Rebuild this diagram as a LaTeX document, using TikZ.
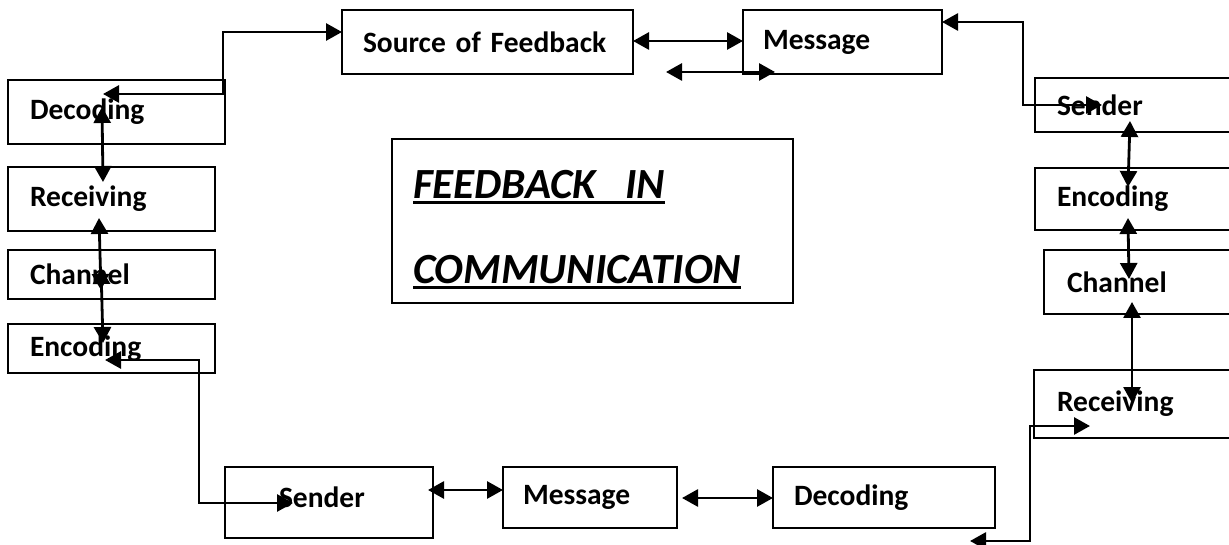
\documentclass[tikz,border=0pt]{standalone}
\usepackage{fontspec}
\setmainfont{Carlito}
\usetikzlibrary{arrows.meta}
\newcommand\titlebar[1]{\leavevmode\setbox0\hbox{#1}\rlap{\rule[-6pt]{\wd0}{3pt}}\box0}
\begin{document}
\begin{tikzpicture}[x=1pt, y=-1pt,
    stage/.style={draw, line width=2.2pt, anchor=north west, outer sep=0pt, inner ysep=0pt,
        align=left, font=\bfseries\fontsize{29.5}{35}\selectfont},
    link/.style={line width=2.8pt, {Triangle[length=16pt,width=17pt]}-{Triangle[length=16pt,width=17pt]}}]
    \useasboundingbox (0, 0) rectangle (1229, 545);
    \node[stage, minimum width=217pt, minimum height=64pt, inner xsep=22pt, text width=173pt] (decL) at (8, 80) {Decoding};
    \node[stage, minimum width=207pt, minimum height=64pt, inner xsep=22pt, text width=163pt] (recL) at (8, 167) {Receiving};
    \node[stage, minimum width=207pt, minimum height=49pt, inner xsep=22pt, text width=163pt] (chaL) at (8, 250) {Channel};
    \node[stage, minimum width=207pt, minimum height=49pt, inner xsep=22pt, text width=163pt] (encL) at (8, 324) {Encoding};
    \node[stage, minimum width=291pt, minimum height=64pt, inner xsep=21pt, text width=249pt] (src) at (342, 10) {Source of Feedback};
    \node[stage, minimum width=199pt, minimum height=64pt, inner xsep=20pt, text width=159pt] (msgT) at (743, 10) {Message};
    \node[stage, minimum width=200pt, minimum height=54pt, inner xsep=22pt, text width=156pt] (sndR) at (1035, 78) {Sender};
    \node[stage, minimum width=200pt, minimum height=62pt, inner xsep=22pt, text width=156pt] (encR) at (1035, 168) {Encoding};
    \node[stage, minimum width=191pt, minimum height=64pt, inner xsep=23pt, text width=145pt] (chaR) at (1044, 250) {Channel};
    \node[stage, minimum width=201pt, minimum height=68pt, inner xsep=23pt, text width=155pt] (recR) at (1034, 370) {Receiving};
    \node[stage, minimum width=208pt, minimum height=71pt, inner xsep=54pt, text width=100pt] (sndB) at (225, 467) {Sender\rule[-10pt]{0pt}{10pt}};
    \node[stage, minimum width=174pt, minimum height=61pt, inner xsep=20pt, text width=134pt] (msgB) at (503, 467) {Message};
    \node[stage, minimum width=222pt, minimum height=61pt, inner xsep=21pt, text width=180pt] (decB) at (773, 467) {Decoding};
    \node[stage, minimum width=401pt, minimum height=164pt, inner xsep=21pt, text width=359pt,
        font=\bfseries\itshape\fontsize{43}{85}\selectfont] (title) at (392, 139)
        {\rule{0pt}{46pt}\titlebar{FEEDBACK\ \ IN}\\\titlebar{COMMUNICATION}};
    % feedback loop
    \draw[link] ([shift={(95,14)}]decL.north west) -| ([shift={(-119,22)}]src.north west) -- ([shift={(0,22)}]src.north west);
    \draw[link] ([shift={(0,31)}]src.north east) -- ([shift={(0,31)}]msgT.north west);
    \draw[link] ([shift={(-77,62)}]msgT.north west) -- ([shift={(32,62)}]msgT.north west);
    \draw[link] ([shift={(0,12)}]msgT.north east) -| ([shift={(-12,27)}]sndR.north west) -- ([shift={(67,27)}]sndR.north west);
    \draw[link] ([shift={(95,43)}]sndR.north west) -- ([shift={(93,19)}]encR.north west);
    \draw[link] ([shift={(93,50)}]encR.north west) -- ([shift={(85,29)}]chaR.north west);
    \draw[link] ([shift={(88,52)}]chaR.north west) -- ([shift={(98,33)}]recR.north west);
    \draw[link] ([shift={(-25,13)}]decB.south east) -| ([shift={(-4,56)}]recR.north west) -- ([shift={(56,56)}]recR.north west);
    \draw[link] ([shift={(5,31)}]msgB.north east) -- ([shift={(0,31)}]decB.north west);
    \draw[link] ([shift={(-5,23)}]sndB.north east) -- ([shift={(0,23)}]msgB.north west);
    \draw[link] ([shift={(97,36)}]encL.north west) -| ([shift={(-26,36)}]sndB.north west) -- ([shift={(68,36)}]sndB.north west);
    \draw[link] ([shift={(93,18)}]chaL.north west) -- ([shift={(95,19)}]encL.north west);
    \draw[link] ([shift={(91,51)}]recL.north west) -- ([shift={(93,40)}]chaL.north west);
    \draw[link] ([shift={(94,27)}]decL.north west) -- ([shift={(95,15)}]recL.north west);
\end{tikzpicture}
\end{document}
